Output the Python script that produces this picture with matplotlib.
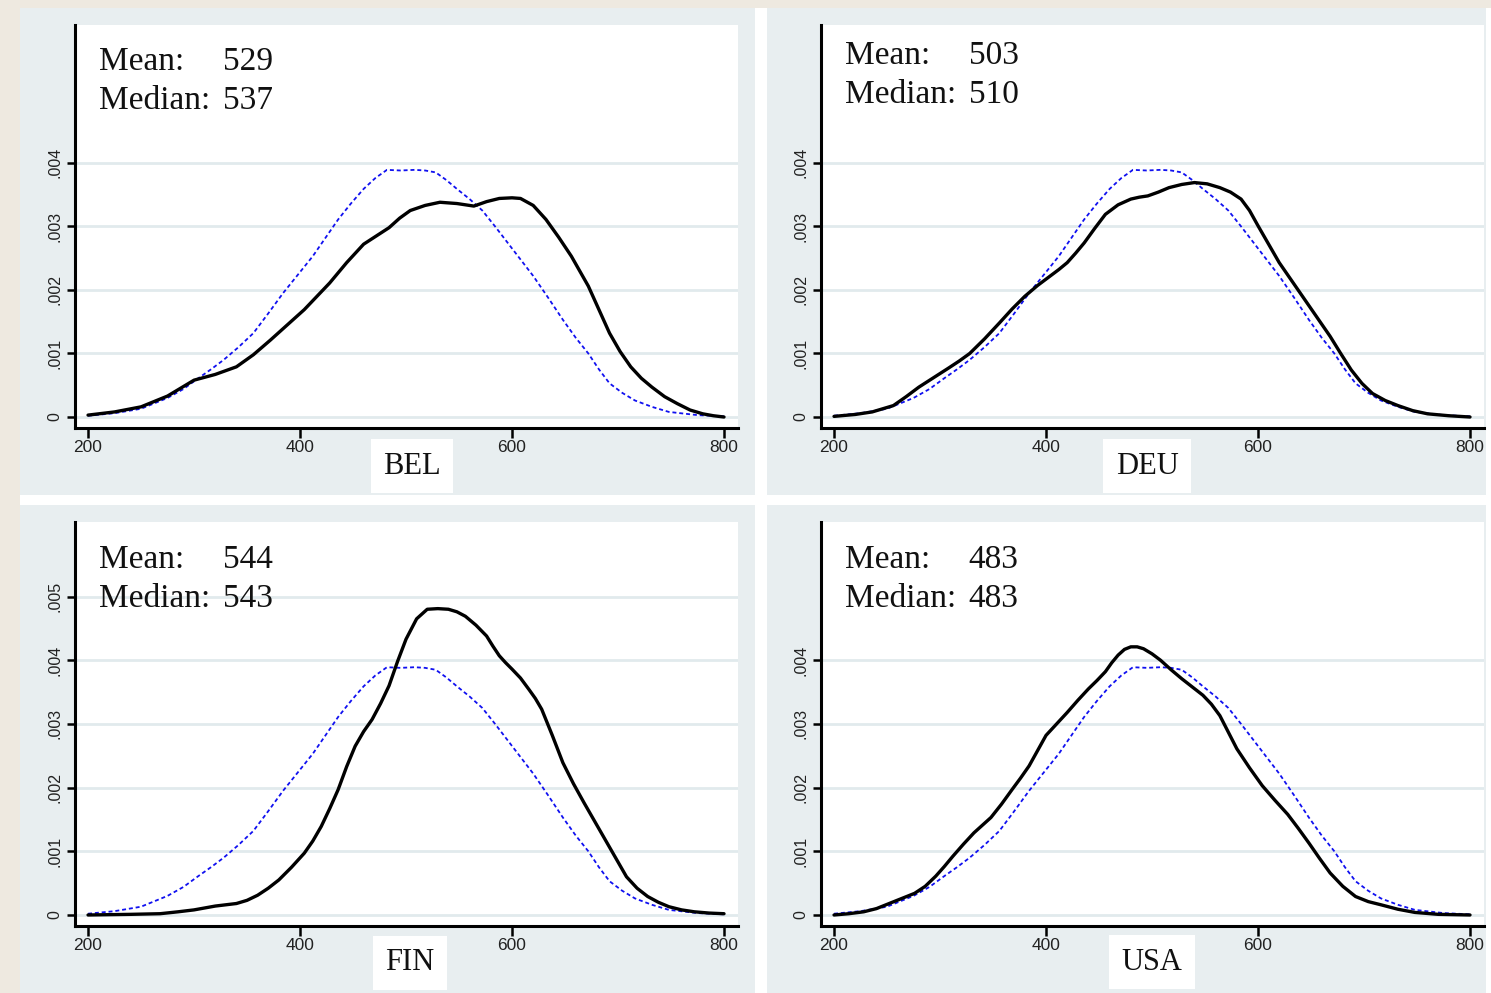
import matplotlib
matplotlib.use("Agg")
import matplotlib.pyplot as plt
from matplotlib.patches import Rectangle

# reference normal density (blue, dashed) - same in every panel
norm_x = [200, 225, 250, 275, 290, 304, 316, 328, 342, 356, 370, 384, 398, 412,
          424, 436, 448, 460, 471, 482, 495, 508, 518, 528, 538, 548, 560, 572,
          584, 596, 608, 620, 634, 648, 660, 672, 682, 692, 704, 716, 732, 748,
          775, 800]
norm_y = [0.00002, 0.00006, 0.00013, 0.00030, 0.00044, 0.00061, 0.00075, 0.00090,
          0.00110, 0.00132, 0.00163, 0.00195, 0.00224, 0.00253, 0.00282, 0.00311,
          0.00336, 0.00359, 0.00376, 0.00389, 0.00388, 0.00389, 0.00388, 0.00385,
          0.00373, 0.00359, 0.00343, 0.00325, 0.00300, 0.00274, 0.00248, 0.00222,
          0.00188, 0.00153, 0.00125, 0.00100, 0.00075, 0.00053, 0.00038, 0.00026,
          0.00016, 0.00008, 0.00003, 0.00001]

# country densities (black)
bel_x = [200, 225, 250, 275, 300, 320, 340, 356, 372, 388, 404, 416, 428, 444,
         460, 472, 484, 494, 504, 518, 532, 548, 564, 576, 588, 600, 608, 620,
         632, 644, 656, 672, 682, 692, 702, 712, 722, 732, 744, 756, 768, 780,
         790, 800]
bel_y = [0.00003, 0.00008, 0.00016, 0.00033, 0.00058, 0.00067, 0.00079, 0.00098,
         0.00121, 0.00145, 0.00169, 0.00190, 0.00211, 0.00243, 0.00272, 0.00285,
         0.00298, 0.00313, 0.00325, 0.00333, 0.00338, 0.00336, 0.00332, 0.00339,
         0.00344, 0.00345, 0.00344, 0.00333, 0.00311, 0.00283, 0.00253, 0.00206,
         0.00169, 0.00132, 0.00103, 0.00079, 0.00061, 0.00047, 0.00032, 0.00021,
         0.00011, 0.00005, 0.00002, 0.00000]

deu_x = [200, 220, 236, 256, 268, 280, 294, 308, 318, 328, 342, 356, 368, 380,
         392, 404, 412, 420, 428, 436, 446, 456, 468, 480, 488, 496, 506, 516,
         528, 540, 552, 564, 574, 584, 592, 600, 610, 620, 632, 644, 656, 668,
         678, 688, 698, 708, 720, 732, 746, 760, 780, 800]
deu_y = [0.00001, 0.00004, 0.00008, 0.00018, 0.00032, 0.00047, 0.00062, 0.00077,
         0.00088, 0.00100, 0.00123, 0.00148, 0.00170, 0.00190, 0.00207, 0.00222,
         0.00232, 0.00243, 0.00258, 0.00274, 0.00297, 0.00319, 0.00334, 0.00343,
         0.00346, 0.00348, 0.00354, 0.00361, 0.00366, 0.00369, 0.00367, 0.00361,
         0.00354, 0.00343, 0.00325, 0.00301, 0.00272, 0.00243, 0.00214, 0.00185,
         0.00156, 0.00127, 0.00100, 0.00074, 0.00053, 0.00037, 0.00026, 0.00018,
         0.00010, 0.00005, 0.00002, 0.00000]

fin_x = [200, 240, 268, 285, 300, 320, 340, 350, 360, 370, 380, 392, 404, 412,
         420, 428, 436, 444, 452, 460, 468, 476, 484, 492, 500, 510, 520, 530,
         540, 548, 556, 566, 576, 582, 588, 594, 600, 608, 616, 622, 628, 638,
         648, 658, 668, 678, 688, 698, 708, 718, 728, 738, 748, 760, 772, 786,
         800]
fin_y = [0.00000, 0.00001, 0.00002, 0.00005, 0.00008, 0.00014, 0.00018, 0.00023,
         0.00031, 0.00042, 0.00055, 0.00075, 0.00097, 0.00116, 0.00139, 0.00167,
         0.00197, 0.00233, 0.00265, 0.00288, 0.00307, 0.00332, 0.00360, 0.00398,
         0.00433, 0.00465, 0.00480, 0.00481, 0.00480, 0.00476, 0.00469, 0.00455,
         0.00438, 0.00422, 0.00407, 0.00396, 0.00386, 0.00372, 0.00354, 0.00340,
         0.00323, 0.00282, 0.00239, 0.00206, 0.00176, 0.00147, 0.00118, 0.00089,
         0.00060, 0.00042, 0.00029, 0.00020, 0.00013, 0.00008, 0.00005, 0.00003,
         0.00002]

usa_x = [200, 214, 228, 240, 252, 264, 276, 286, 296, 304, 312, 322, 332, 340,
         348, 358, 368, 376, 384, 392, 400, 410, 420, 430, 440, 448, 456, 462,
         468, 474, 480, 486, 492, 500, 508, 518, 528, 538, 548, 556, 564, 572,
         580, 592, 604, 616, 628, 638, 648, 658, 668, 680, 692, 704, 716, 732,
         748, 770, 800]
usa_y = [0.00000, 0.00002, 0.00005, 0.00010, 0.00018, 0.00026, 0.00034, 0.00045,
         0.00061, 0.00076, 0.00092, 0.00111, 0.00129, 0.00141, 0.00153, 0.00174,
         0.00197, 0.00215, 0.00234, 0.00258, 0.00282, 0.00300, 0.00318, 0.00337,
         0.00355, 0.00368, 0.00382, 0.00396, 0.00408, 0.00417, 0.00421, 0.00421,
         0.00418, 0.00410, 0.00400, 0.00385, 0.00371, 0.00358, 0.00345, 0.00331,
         0.00313, 0.00287, 0.00261, 0.00231, 0.00203, 0.00180, 0.00158, 0.00136,
         0.00113, 0.00089, 0.00066, 0.00045, 0.00029, 0.00021, 0.00016, 0.00009,
         0.00004, 0.00001, 0.00000]

countries = ["BEL", "DEU", "FIN", "USA"]
means = [529, 503, 544, 483]
medians = [537, 510, 543, 483]
curves_x = [bel_x, deu_x, fin_x, usa_x]
curves_y = [bel_y, deu_y, fin_y, usa_y]

xticks = [200, 400, 600, 800]
yticks_4 = [0, 0.001, 0.002, 0.003, 0.004]
ylabels_4 = ["0", ".001", ".002", ".003", ".004"]
yticks_5 = [0, 0.001, 0.002, 0.003, 0.004, 0.005]
ylabels_5 = ["0", ".001", ".002", ".003", ".004", ".005"]

W, H = 1491, 993
fig = plt.figure(figsize=(W / 100, H / 100), dpi=100, facecolor="white")

beige = "#EEE9E0"
panel_bg = "#E8EEF0"
grid_c = "#E1EAED"

def px_rect(x0, y0, x1, y1, color):
    fig.patches.append(Rectangle((x0 / W, 1 - y1 / H), (x1 - x0) / W, (y1 - y0) / H,
                                 transform=fig.transFigure, facecolor=color,
                                 edgecolor="none", zorder=-10))

px_rect(0, 0, W, 8, beige)
px_rect(0, 0, 20, H, beige)
panels = [(20, 8, 755, 495), (767, 8, 1486, 495), (20, 505, 755, H), (767, 505, 1486, H)]
for p in panels:
    px_rect(*p, panel_bg)

# axes rectangles in pixels: left, top, width, height
ax_px = [(75, 25, 663, 403), (821, 25, 663, 403), (75, 522, 663, 404), (821, 522, 663, 404)]
mean_y = [0.888, 0.903, 0.886, 0.886]
label_pos = [(412, 466), (1147, 466), (410, 963), (1152, 962)]

for i, c in enumerate(countries):
    l, t, w, h = ax_px[i]
    ax = fig.add_axes([l / W, 1 - (t + h) / H, w / W, h / H])
    ax.set_facecolor("white")
    ax.set_xlim(187.7, 813.2)
    ax.set_ylim(-0.000173, 0.00617)

    if c == "FIN":
        ax.set_yticks(yticks_5)
        ax.set_yticklabels(ylabels_5)
    else:
        ax.set_yticks(yticks_4)
        ax.set_yticklabels(ylabels_4)
    ax.set_xticks(xticks)
    ax.set_xticklabels([str(v) for v in xticks])

    ax.grid(axis="y", color=grid_c, linewidth=2.0)
    ax.set_axisbelow(True)

    ax.plot(norm_x, norm_y, color="#1010F0", linewidth=1.3, linestyle=(0, (2.2, 1.6)), zorder=3)
    ax.plot(curves_x[i], curves_y[i], color="black", linewidth=2.4,
            solid_joinstyle="round", solid_capstyle="round", zorder=4)

    for s in ["top", "right"]:
        ax.spines[s].set_visible(False)
    for s in ["left", "bottom"]:
        ax.spines[s].set_linewidth(2.2)
        ax.spines[s].set_color("black")

    ax.tick_params(axis="x", length=7, width=1.8, pad=2, labelsize=12.5,
                   labelcolor="#222222", labelfontfamily="Liberation Sans")
    ax.tick_params(axis="y", length=6, width=1.8, pad=3, labelsize=11.5,
                   labelcolor="#222222", labelrotation=90,
                   labelfontfamily="Liberation Sans")
    for lab in ax.get_yticklabels():
        lab.set_va("center")

    ax.text(0.036, mean_y[i], "Mean:", transform=ax.transAxes, fontsize=24,
            family="Liberation Serif", color="#111111")
    ax.text(0.223, mean_y[i], str(means[i]), transform=ax.transAxes, fontsize=24,
            family="Liberation Serif", color="#111111")
    ax.text(0.036, mean_y[i] - 0.097, "Median:", transform=ax.transAxes, fontsize=24,
            family="Liberation Serif", color="#111111")
    ax.text(0.223, mean_y[i] - 0.097, str(medians[i]), transform=ax.transAxes, fontsize=24,
            family="Liberation Serif", color="#111111")

    lx, ly = label_pos[i]
    fig.text(lx / W, 1 - ly / H, c, ha="center", va="center", fontsize=22,
             family="Liberation Serif", color="#111111",
             bbox=dict(boxstyle="square,pad=0.4", facecolor="white", edgecolor="none"))

fig.savefig("out.png", dpi=100, facecolor=fig.get_facecolor())
